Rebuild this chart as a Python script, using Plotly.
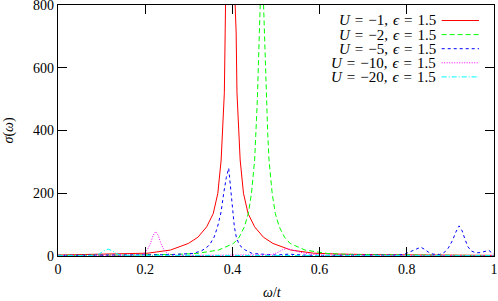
import plotly.graph_objects as go

# ---- data ----
x_u1 = [0.00, 0.046, 0.146, 0.206, 0.258, 0.299, 0.321, 0.341, 0.356, 0.3666, 0.3742, 0.378,
        0.3815, 0.3834, 0.3857, 0.396, 0.4063, 0.4086, 0.4105, 0.414, 0.4178, 0.4254, 0.436,
        0.451, 0.471, 0.493, 0.534, 0.586, 0.646, 0.746, 0.896, 1.00]
y_u1 = [3, 4, 6, 9, 19, 40, 60, 93, 135, 200, 306, 400,
        520, 711, 800, 2000, 800, 711, 520, 400, 306, 200, 135,
        93, 60, 40, 19, 9, 6, 4, 3, 2]

x_u2 = [0.00, 0.0175, 0.1675, 0.2675, 0.3175, 0.3685, 0.4025, 0.4155, 0.4275, 0.4365, 0.4438,
        0.451, 0.454, 0.4572, 0.4618, 0.4635, 0.4675, 0.4715, 0.4732, 0.4778, 0.481, 0.484,
        0.4912, 0.4985, 0.5075, 0.5195, 0.5325, 0.5665, 0.6175, 0.6675, 0.7675, 0.9175, 1.00]
y_u2 = [2, 2, 3, 5, 8, 19, 40, 60, 93, 135, 200,
        306, 390, 497, 711, 800, 960, 800, 711, 497, 390, 306,
        200, 135, 93, 60, 40, 19, 8, 5, 3, 2, 1.5]

x_u5 = [0.00, 0.10, 0.20, 0.25, 0.28, 0.31, 0.33, 0.345, 0.3495, 0.358, 0.366, 0.374, 0.380,
        0.386, 0.3915, 0.394, 0.397, 0.4005, 0.4045, 0.409, 0.4145, 0.421, 0.4295, 0.4455,
        0.47, 0.50, 0.53, 0.56, 0.60, 0.70, 0.78, 0.795, 0.805, 0.815, 0.825, 0.832, 0.84,
        0.85, 0.86, 0.875, 0.885, 0.895, 0.905, 0.912, 0.92, 0.927, 0.933, 0.94, 0.948,
        0.958, 0.97, 0.98, 0.988, 0.995, 1.00]
y_u5 = [2, 2, 3, 4, 6, 8, 17, 32, 40, 60, 93, 140, 200,
        250, 280, 245, 200, 140, 93, 60, 40, 28, 19, 8,
        5, 3, 6, 3, 2, 2, 3, 6, 12, 20, 26, 28, 22,
        12, 6, 5, 10, 25, 50, 75, 96, 80, 55, 30, 16,
        10, 11, 16, 18, 10, 6]

x_u10 = [0.00, 0.15, 0.19, 0.197, 0.205, 0.212, 0.218, 0.224, 0.230, 0.236, 0.243, 0.251,
         0.26, 0.30, 0.40, 0.47, 0.49, 0.505, 0.515, 0.525, 0.54, 0.555, 0.575, 0.60, 1.00]
y_u10 = [1, 1, 3, 8, 20, 40, 65, 78, 65, 40, 20, 8,
         3, 2, 2, 3, 4, 12, 20, 24, 18, 12, 7, 3, 1]

x_u20 = [0.00, 0.085, 0.095, 0.105, 0.115, 0.125, 0.135, 0.145, 1.00]
y_u20 = [1, 2, 7, 16, 22, 16, 7, 2, 1]

S = "\u2004"
labels = [f"<i>U</i>{S}={S}−1,{S}<i>ϵ</i>{S}={S}1.5", f"<i>U</i>{S}={S}−2,{S}<i>ϵ</i>{S}={S}1.5",
          f"<i>U</i>{S}={S}−5,{S}<i>ϵ</i>{S}={S}1.5", f"<i>U</i>{S}={S}−10,{S}<i>ϵ</i>{S}={S}1.5",
          f"<i>U</i>{S}={S}−20,{S}<i>ϵ</i>{S}={S}1.5"]
colors = ["#ff0000", "#00ff00", "#0000ff", "#ff00ff", "#00ffff"]
dashes = ["solid", "5px,3px", "3px,3px", "1px,1.5px", "5px,2px,1px,2px"]

xs = [x_u1, x_u2, x_u5, x_u10, x_u20]
ys = [y_u1, y_u2, y_u5, y_u10, y_u20]

FONT = "Liberation Serif"

fig = go.Figure()
for x, y, lab, c, d in zip(xs, ys, labels, colors, dashes):
    fig.add_trace(go.Scatter(x=x, y=y, mode="lines", name=lab,
                             line=dict(color=c, width=1, dash=d), showlegend=False))

# gnuplot-style legend: right-aligned text with sample to its right
row0 = (256 - 20.5) / 251
drow = 14.1 / 251
for i, (lab, c, d) in enumerate(zip(labels, colors, dashes)):
    yy = row0 - i * drow
    fig.add_annotation(x=(437 - 58) / 436, y=yy, xref="paper", yref="paper",
                       text=lab, showarrow=False, xanchor="right", yanchor="middle",
                       borderpad=0, font=dict(family=FONT, size=15, color="black"))
    fig.add_shape(type="line", xref="paper", yref="paper",
                  x0=(441.7 - 58) / 436, x1=(479 - 58) / 436, y0=yy, y1=yy,
                  line=dict(color=c, width=1, dash=d))

# axis titles
fig.add_annotation(x=0.5, y=0, xref="paper", yref="paper", text="<i>ω</i>/<i>t</i>",
                   showarrow=False, xanchor="center", yanchor="middle",
                   xshift=-4, yshift=-36, font=dict(family=FONT, size=14, color="black"))
fig.add_annotation(x=0, y=0.5, xref="paper", yref="paper", text="<i>σ</i>(<i>ω</i>)",
                   showarrow=False, xanchor="center", yanchor="middle", textangle=-90,
                   xshift=-50, font=dict(family=FONT, size=14, color="black"))

axis_common = dict(showgrid=False, zeroline=False, showline=True, linecolor="black",
                   linewidth=1.2, mirror="ticks", ticks="inside", ticklen=9,
                   tickwidth=1.2, tickcolor="black", automargin=False,
                   ticklabeloverflow="allow",
                   tickfont=dict(family=FONT, size=14, color="black"))
fig.update_xaxes(range=[0, 1], dtick=0.2, tick0=0, **axis_common)
fig.update_yaxes(range=[0, 800], dtick=200, tick0=0, **axis_common)

fig.update_layout(width=498, height=301, margin=dict(l=58, r=4, t=5, b=45),
                  plot_bgcolor="white", paper_bgcolor="white", showlegend=False)
fig.write_html("out.html", config={"displayModeBar": False},
               post_script="document.body.style.margin='0';")
